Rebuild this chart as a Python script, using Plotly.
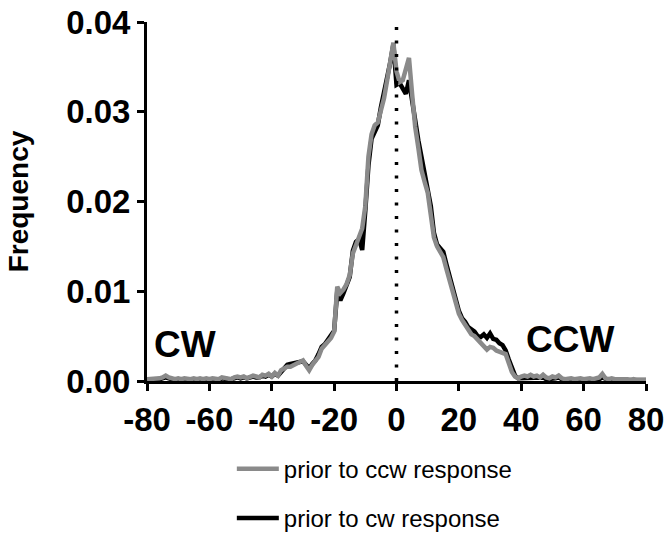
import plotly.graph_objects as go

# ---------------- data ----------------
angles = list(range(-80, 81))

freq_prior_ccw = [
    0.0002, 0.0002, 0.0003, 0.0002, 0.0003, 0.0004, 0.0006, 0.0004, 0.0003, 0.0002,  # -80..-71
    0.0003, 0.0002, 0.0003, 0.0002, 0.0002, 0.0003, 0.0002, 0.0003, 0.0002, 0.0003,  # -70..-61
    0.0002, 0.0003, 0.0002, 0.0002, 0.0004, 0.0003, 0.0003, 0.0002, 0.0004, 0.0005,  # -60..-51
    0.0004, 0.0005, 0.0003, 0.0005, 0.0006, 0.0005, 0.0004, 0.0007, 0.0006, 0.0008,  # -50..-41
    0.0005, 0.0009, 0.0006, 0.0012, 0.0014, 0.0016, 0.0016, 0.0018, 0.0019, 0.0022,  # -40..-31
    0.0023, 0.0017, 0.0012, 0.0018, 0.0022, 0.0027, 0.0036, 0.0040, 0.0044, 0.0048,  # -30..-21
    0.0055, 0.0105, 0.0098, 0.0102, 0.0108, 0.0118, 0.0142, 0.0152, 0.0160, 0.0170,  # -20..-11
    0.0195, 0.0250, 0.0275, 0.0285, 0.0288, 0.0300, 0.0315, 0.0335, 0.0360, 0.0377,  # -10..-1
    0.0345,                                                                          # 0
    0.0333, 0.0335, 0.0350, 0.0360, 0.0320, 0.0283, 0.0260, 0.0235, 0.0222, 0.0210,  # 1..10
    0.0185, 0.0160, 0.0150, 0.0145, 0.0138, 0.0125, 0.0112, 0.0100, 0.0085, 0.0075,  # 11..20
    0.0068, 0.0062, 0.0056, 0.0052, 0.0050, 0.0046, 0.0042, 0.0038, 0.0035, 0.0038,  # 21..30
    0.0037, 0.0034, 0.0033, 0.0031, 0.0030, 0.0020, 0.0010, 0.0005, 0.0003, 0.0005,  # 31..40
    0.0006, 0.0005, 0.0007, 0.0005, 0.0006, 0.0004, 0.0007, 0.0004, 0.0003, 0.0005,  # 41..50
    0.0004, 0.0006, 0.0003, 0.0002, 0.0003, 0.0003, 0.0002, 0.0003, 0.0003, 0.0002,  # 51..60
    0.0003, 0.0003, 0.0002, 0.0003, 0.0004, 0.0008, 0.0003, 0.0002, 0.0003, 0.0002,  # 61..70
    0.0002, 0.0003, 0.0002, 0.0002, 0.0001, 0.0002, 0.0001, 0.0001, 0.0002, 0.0001,  # 71..80
]

freq_prior_cw = [
    0.0001, 0.0002, 0.0002, 0.0001, 0.0002, 0.0003, 0.0004, 0.0003, 0.0002, 0.0001,  # -80..-71
    0.0002, 0.0001, 0.0002, 0.0001, 0.0002, 0.0002, 0.0001, 0.0002, 0.0001, 0.0002,  # -70..-61
    0.0001, 0.0002, 0.0002, 0.0001, 0.0003, 0.0002, 0.0002, 0.0002, 0.0003, 0.0004,  # -60..-51
    0.0003, 0.0004, 0.0003, 0.0004, 0.0005, 0.0004, 0.0004, 0.0006, 0.0005, 0.0007,  # -50..-41
    0.0005, 0.0008, 0.0006, 0.0010, 0.0015, 0.0018, 0.0019, 0.0020, 0.0021, 0.0022,  # -40..-31
    0.0022, 0.0018, 0.0014, 0.0019, 0.0023, 0.0030, 0.0038, 0.0041, 0.0046, 0.0050,  # -30..-21
    0.0056, 0.0100, 0.0090, 0.0098, 0.0106, 0.0116, 0.0145, 0.0155, 0.0158, 0.0146,  # -20..-11
    0.0190, 0.0240, 0.0270, 0.0278, 0.0285, 0.0305, 0.0320, 0.0340, 0.0355, 0.0375,  # -10..-1
    0.0330,                                                                          # 0
    0.0332, 0.0325, 0.0320, 0.0335, 0.0310, 0.0285, 0.0268, 0.0250, 0.0230, 0.0212,  # 1..10
    0.0195, 0.0165, 0.0152, 0.0148, 0.0144, 0.0130, 0.0116, 0.0102, 0.0090, 0.0078,  # 11..20
    0.0070, 0.0066, 0.0060, 0.0057, 0.0055, 0.0050, 0.0049, 0.0052, 0.0048, 0.0053,  # 21..30
    0.0047, 0.0046, 0.0042, 0.0040, 0.0034, 0.0024, 0.0015, 0.0006, 0.0003, 0.0003,  # 31..40
    0.0004, 0.0003, 0.0004, 0.0003, 0.0004, 0.0003, 0.0004, 0.0002, 0.0002, 0.0003,  # 41..50
    0.0003, 0.0004, 0.0002, 0.0002, 0.0002, 0.0002, 0.0001, 0.0002, 0.0002, 0.0001,  # 51..60
    0.0002, 0.0002, 0.0001, 0.0002, 0.0002, 0.0004, 0.0002, 0.0001, 0.0002, 0.0001,  # 61..70
    0.0001, 0.0002, 0.0001, 0.0001, 0.0001, 0.0001, 0.0001, 0.0001, 0.0001, 0.0001,  # 71..80
]

x_tick_vals = [-80, -60, -40, -20, 0, 20, 40, 60, 80]
x_tick_text = ["-80", "-60", "-40", "-20", "0", "20", "40", "60", "80"]
y_tick_vals = [0.00, 0.01, 0.02, 0.03, 0.04]
y_tick_text = ["0.00", "0.01", "0.02", "0.03", "0.04"]

series_names = ["prior to ccw response", "prior to cw response"]
side_labels = ["CW", "CCW"]

# ---------------- figure ----------------
FONT = "Liberation Sans, Arial, Helvetica, sans-serif"
GRAY = "#8a8a8a"

fig = go.Figure()
fig.add_trace(go.Scatter(
    x=angles, y=freq_prior_cw, mode="lines", name=series_names[1],
    line=dict(color="black", width=4.5), legendrank=2, legendgroup="b",
))
fig.add_trace(go.Scatter(
    x=angles, y=freq_prior_ccw, mode="lines", name=series_names[0],
    line=dict(color=GRAY, width=4.5), legendrank=1, legendgroup="a",
))

# dotted zero line
fig.add_shape(type="line", xref="x", yref="y", x0=0, x1=0, y0=0, y1=0.04,
              line=dict(color="black", width=3.5, dash="3px,10.5px"), layer="above")

fig.add_annotation(x=-78.5, y=0.0041, xref="x", yref="y", text="<b>%s</b>" % side_labels[0],
                   showarrow=False, xanchor="left", yanchor="middle",
                   font=dict(family=FONT, size=37, color="black"))
fig.add_annotation(x=41.0, y=0.0046, xref="x", yref="y", text="<b>%s</b>" % side_labels[1],
                   showarrow=False, xanchor="left", yanchor="middle",
                   font=dict(family=FONT, size=37, color="black"))

fig.update_layout(
    width=667, height=544,
    margin=dict(l=147, r=21, t=22, b=163, autoexpand=False),
    paper_bgcolor="white", plot_bgcolor="white",
    font=dict(family=FONT, color="black"),
    showlegend=True,
    legend=dict(
        x=0.17, y=-0.183, xanchor="left", yanchor="top",
        orientation="v", traceorder="grouped", tracegroupgap=15,
        font=dict(family=FONT, size=24, color="black"),
        bgcolor="rgba(0,0,0,0)", itemwidth=42,
    ),
    xaxis=dict(
        range=[-80, 80], showgrid=False, zeroline=False, automargin=False,
        showline=True, linecolor="black", linewidth=3,
        ticks="outside", ticklen=7, tickwidth=3, tickcolor="black",
        tickvals=x_tick_vals, ticktext=x_tick_text,
        tickfont=dict(family=FONT, size=33, color="black", weight="bold"),
    ),
    yaxis=dict(
        range=[0, 0.04], showgrid=False, zeroline=False, automargin=False,
        showline=True, linecolor="black", linewidth=3,
        ticks="outside", ticklen=7, tickwidth=3, tickcolor="black",
        tickvals=y_tick_vals, ticktext=y_tick_text,
        tickfont=dict(family=FONT, size=33, color="black", weight="bold"),
        title=dict(text="<b>Frequency</b>", standoff=30,
                   font=dict(family=FONT, size=28, color="black")),
    ),
)

fig.write_html("out.html")
